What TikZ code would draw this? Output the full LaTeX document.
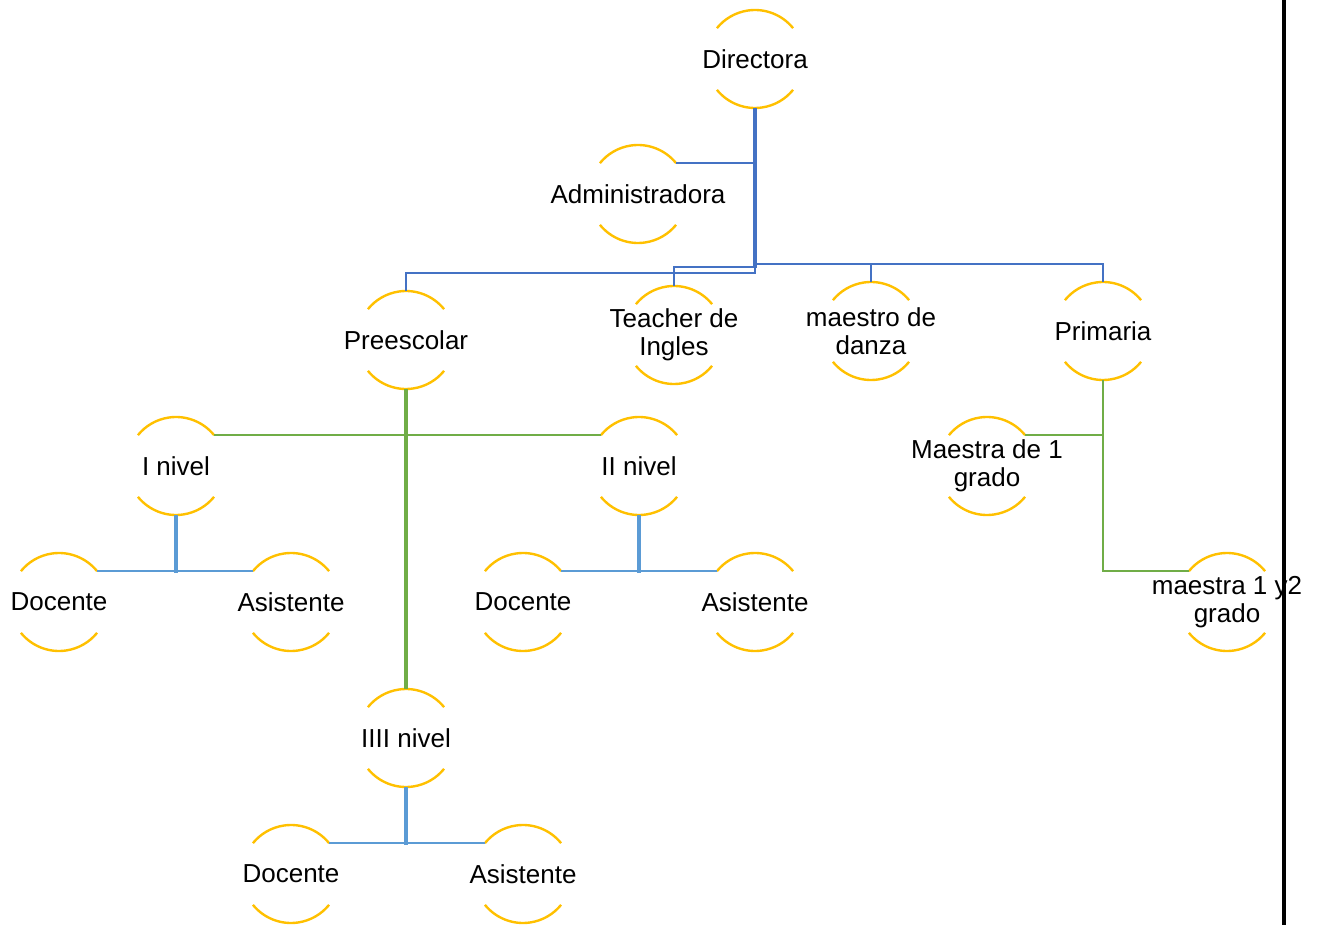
\documentclass[tikz,border=0pt]{standalone}
\usepackage{fontspec}
\setmainfont{Liberation Sans}
\definecolor{ringc}{HTML}{FFC000}
\definecolor{darkb}{HTML}{4472C4}
\definecolor{greenc}{HTML}{70AD47}
\definecolor{lightb}{HTML}{5B9BD5}
\begin{document}
\begin{tikzpicture}[x=0.5pt,y=0.5pt,
  ring/.style={circle, minimum size=49pt, inner sep=0pt, outer sep=0pt},
  lab/.style={font=\fontsize{13}{14}\selectfont, align=center, inner sep=0pt, text=black},
  arcl/.style={draw=ringc, line width=1.2pt},
  cdb/.style={draw=darkb, line width=1pt},
  cgr/.style={draw=greenc, line width=1pt},
  clb/.style={draw=lightb, line width=1.1pt}]
\useasboundingbox (0,0) rectangle (1324,-925);

\node[ring, label={[lab]center:Directora}] (dir) at (755,-59) {};
\node[ring, label={[lab]center:Administradora}] (adm) at (638,-194) {};
\node[ring, label={[lab]center:Preescolar}] (pre) at (406,-340) {};
\node[ring, label={[lab]center:{Teacher de\\Ingles}}] (tea) at (674,-335) {};
\node[ring, label={[lab]center:{maestro de\\danza}}] (dan) at (871,-331) {};
\node[ring, label={[lab]center:Primaria}] (pri) at (1103,-331) {};
\node[ring, label={[lab]center:I nivel}] (n1) at (176,-466) {};
\node[ring, label={[lab]center:II nivel}] (n2) at (639,-466) {};
\node[ring, label={[lab]center:{Maestra de 1\\grado}}] (m1) at (987,-466) {};
\node[ring, label={[lab]center:Docente}] (d1) at (59,-602) {};
\node[ring, label={[lab]center:Asistente}] (a1) at (291,-602) {};
\node[ring, label={[lab]center:Docente}] (d2) at (523,-602) {};
\node[ring, label={[lab]center:Asistente}] (a2) at (755,-602) {};
\node[ring, label={[lab]center:{maestra 1 y2\\grado}}] (m2) at (1227,-602) {};
\node[ring, label={[lab]center:IIII nivel}] (n4) at (406,-738) {};
\node[ring, label={[lab]center:Docente}] (d3) at (291,-874) {};
\node[ring, label={[lab]center:Asistente}] (a3) at (523,-874) {};

\foreach \n in {dir,adm,pre,tea,dan,pri,n1,n2,m1,d1,a1,d2,a2,m2,n4,d3,a3}{
  \draw[arcl] (\n.39) arc[start angle=39,end angle=141,radius=24.5pt]
              (\n.219) arc[start angle=219,end angle=321,radius=24.5pt];
}

% top level (dark blue)
\draw[cdb, line width=1.8pt] (dir.south) -- ++(0,-160);
\draw[cdb] (dir.south) |- (adm.39);
\draw[cdb] (dir.south) -- ++(0,-159) -| (tea.north);
\draw[cdb] (dir.south) -- ++(0,-165) -| (pre.north);
\draw[cdb] (dir.south) -- ++(0,-156) -| (dan.north);
\draw[cdb] (dir.south) -- ++(0,-156) -| (pri.north);

% Preescolar (green)
\draw[cgr] (pre.south) |- (n1.39);
\draw[cgr] (pre.south) |- (n2.141);
\draw[cgr, line width=1.7pt] (pre.south) -- (n4.north);

% Primaria (green)
\draw[cgr] (pri.south) |- (m1.39);
\draw[cgr] (pri.south) |- (m2.141);

% levels (light blue)
\draw[clb, line width=1.8pt] (n1.south) -- ++(0,-58);
\draw[clb] (n1.south) |- (d1.39);
\draw[clb] (n1.south) |- (a1.141);
\draw[clb, line width=1.8pt] (n2.south) -- ++(0,-58);
\draw[clb] (n2.south) |- (d2.39);
\draw[clb] (n2.south) |- (a2.141);
\draw[clb, line width=1.8pt] (n4.south) -- ++(0,-58);
\draw[clb] (n4.south) |- (d3.39);
\draw[clb] (n4.south) |- (a3.141);

% right black rule
\draw[black, line width=2pt] (1284,0) -- (1284,-925);
\end{tikzpicture}
\end{document}
